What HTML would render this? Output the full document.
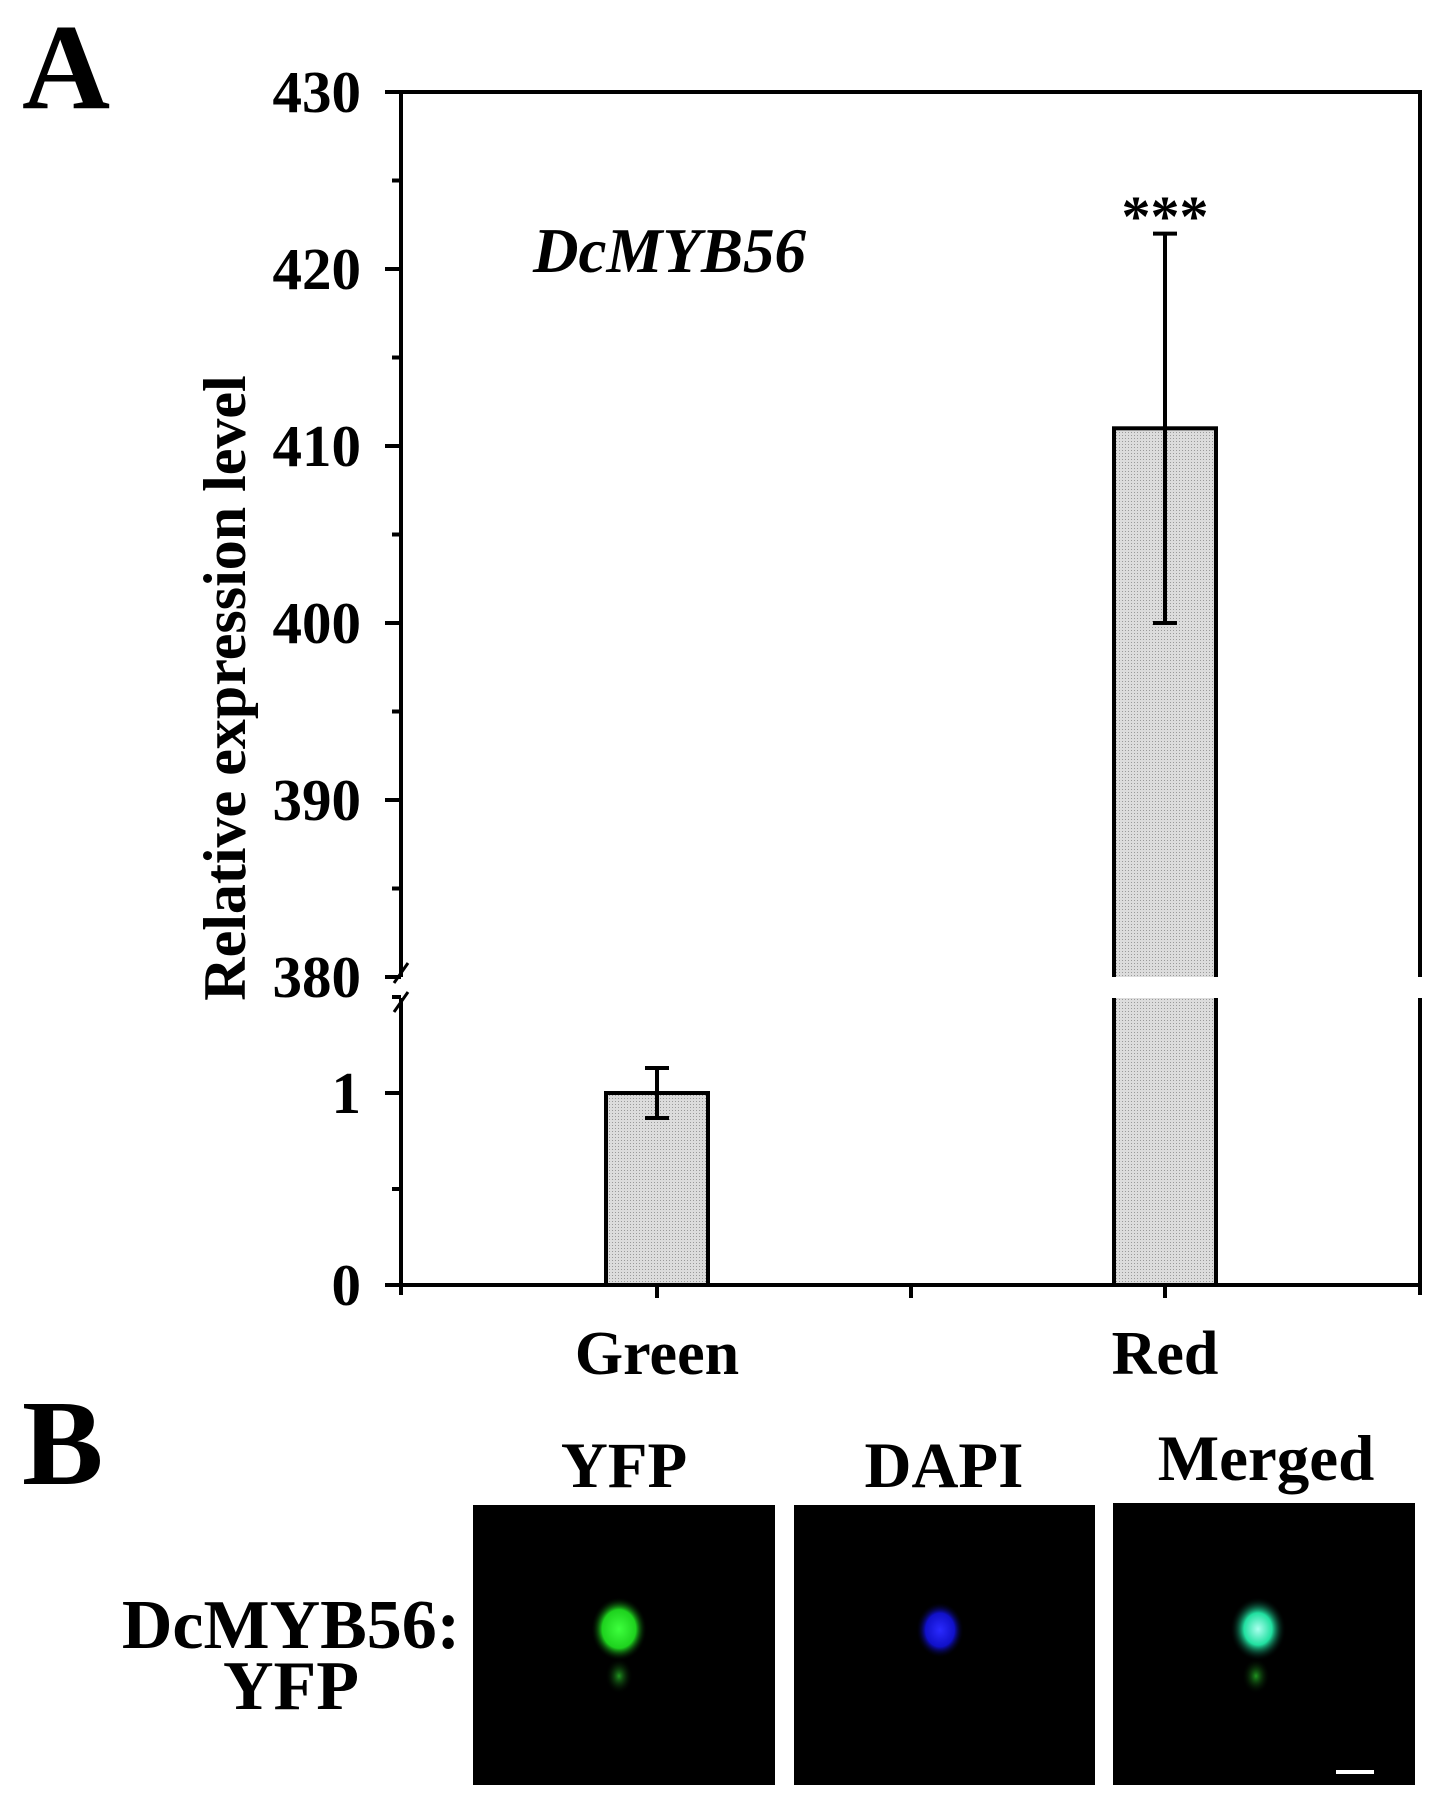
<!DOCTYPE html>
<html><head><meta charset="utf-8"><style>
html,body{margin:0;padding:0;background:#fff;}
svg{display:block;}
text{font-family:"Liberation Serif",serif;font-weight:bold;fill:#000;}
</style></head><body>
<svg id="fig" width="1452" height="1799" viewBox="0 0 1452 1799">
<defs>
<pattern id="dots" width="3" height="3" patternUnits="userSpaceOnUse">
<rect width="3" height="3" fill="#dcdcdc"/><rect width="1" height="1" fill="#9a9a9a"/>
</pattern>
<radialGradient id="gG"><stop offset="0" stop-color="#3dff3d"/><stop offset="0.6" stop-color="#1ed21e"/><stop offset="1" stop-color="#000" stop-opacity="0"/></radialGradient>
<radialGradient id="gB"><stop offset="0" stop-color="#2a2aff"/><stop offset="0.6" stop-color="#1010c8"/><stop offset="1" stop-color="#000" stop-opacity="0"/></radialGradient>
<radialGradient id="gM"><stop offset="0" stop-color="#aaffee"/><stop offset="0.5" stop-color="#20e0a0"/><stop offset="1" stop-color="#000" stop-opacity="0"/></radialGradient>
<radialGradient id="gS"><stop offset="0" stop-color="#1f961f"/><stop offset="1" stop-color="#000" stop-opacity="0"/></radialGradient>
</defs>
<text x="22" y="108" font-size="122">A</text>
<text x="22" y="1484" font-size="122">B</text>
<g id="chart"></g>
<g>
<text x="624" y="1487" font-size="65" text-anchor="middle">YFP</text>
<text x="944" y="1487" font-size="65" text-anchor="middle">DAPI</text>
<text x="1266" y="1480" font-size="65" text-anchor="middle">Merged</text>
<text x="291" y="1648" font-size="70" text-anchor="middle">DcMYB56:</text>
<text x="291" y="1709" font-size="70" text-anchor="middle">YFP</text>
<rect x="473" y="1505" width="302" height="280" fill="#000"/>
<ellipse cx="619" cy="1629" rx="28" ry="32" fill="url(#gG)"/>
<ellipse cx="619" cy="1676" rx="14" ry="18" fill="url(#gS)"/>
<rect x="794" y="1505" width="301" height="280" fill="#000"/>
<ellipse cx="940" cy="1630" rx="24" ry="28" fill="url(#gB)"/>
<rect x="1113" y="1503" width="302" height="282" fill="#000"/>
<ellipse cx="1258" cy="1629" rx="28" ry="32" fill="url(#gM)"/>
<ellipse cx="1256" cy="1676" rx="14" ry="18" fill="url(#gS)"/>
<rect x="1336" y="1770" width="38" height="4" fill="#fff"/>
</g>
</svg>
<script>
const categories = ["Green", "Red"];
const values = [1, 411];
const errLow = [0.87, 400];
const errHigh = [1.13, 422];
const upperTicks = [380, 390, 400, 410, 420, 430];
const lowerTicks = [0, 1];
const NS = "http://www.w3.org/2000/svg";
const g = document.getElementById("chart");
const L = 401, R = 1420, T = 92, B = 1285;
const gapTop = 977, gapBot = 998;
function y(v){
  if (v >= 380) return 977 - (v - 380) * (977 - 92) / 50;
  return 1285 - v * (1285 - 1093);
}
const xCenters = [657, 1165];
function x(i){ return xCenters[i]; }
function el(tag, attrs){ const e = document.createElementNS(NS, tag); for (const k in attrs) e.setAttribute(k, attrs[k]); g.appendChild(e); return e; }
const barW = 102;
values.forEach((v, i) => {
  const top = y(v);
  const r = el("rect", {x: x(i) - barW/2, y: top, width: barW, height: B - top, fill: "url(#dots)", stroke: "#000", "stroke-width": 4});
  
  
  const e = el("path", {d: `M${x(i)} ${y(errHigh[i])}V${y(errLow[i])}M${x(i)-12} ${y(errHigh[i])}H${x(i)+12}M${x(i)-12} ${y(errLow[i])}H${x(i)+12}`, stroke: "#000", "stroke-width": 4, fill: "none"});
  
  
  const lab = el("text", {x: x(i), y: 1374, "font-size": 62, "text-anchor": "middle"});
  lab.textContent = categories[i];
  
  
});
const gap = el("rect", {x: L - 2, y: gapTop, width: R - L + 6, height: gapBot - gapTop, fill: "#fff"});


const ax = el("path", {d: `M${L} ${T}H${R}V${gapTop}M${R} ${gapBot}V${B}H${L}V${gapBot}M${L} ${gapTop}V${T}`, stroke: "#000", "stroke-width": 4, fill: "none"});


const brk = el("path", {d: `M${L-7} ${gapTop+6}L${L+7} ${gapTop-14}M${L-7} ${gapBot+14}L${L+7} ${gapBot-6}`, stroke: "#000", "stroke-width": 3});


upperTicks.forEach(t => {
  el("line", {x1: L - 16, x2: L, y1: y(t), y2: y(t), stroke: "#000", "stroke-width": 4});
  if (t < 430) el("line", {x1: L - 9, x2: L, y1: y(t + 5), y2: y(t + 5), stroke: "#000", "stroke-width": 4});
  const lb = el("text", {x: 361, y: y(t) + 20, "font-size": 59, "text-anchor": "end"});
  lb.textContent = t;
  
  
});
lowerTicks.forEach(t => {
  el("line", {x1: L - 16, x2: L, y1: y(t), y2: y(t), stroke: "#000", "stroke-width": 4});
  el("line", {x1: L - 9, x2: L, y1: y(t + 0.5), y2: y(t + 0.5), stroke: "#000", "stroke-width": 4});
  const lb = el("text", {x: 361, y: y(t) + 20, "font-size": 59, "text-anchor": "end"});
  lb.textContent = t;
  
  
});
[657, 911, 1165].forEach(px => el("line", {x1: px, x2: px, y1: B, y2: B + 13, stroke: "#000", "stroke-width": 4}));
el("line", {x1: L, x2: L, y1: B, y2: B + 10, stroke: "#000", "stroke-width": 4});
el("line", {x1: R, x2: R, y1: B, y2: B + 10, stroke: "#000", "stroke-width": 4});
const st = el("text", {x: x(1), y: 236, "font-size": 58, "text-anchor": "middle", "font-weight": "normal"});
st.textContent = "***";


const gl = el("text", {x: 533, y: 272, "font-size": 63, "font-style": "italic"});
gl.textContent = "DcMYB56";


const yt = el("text", {x: 0, y: 0, "font-size": 60, "text-anchor": "middle", transform: "translate(245 688) rotate(-90)"});
yt.textContent = "Relative expression level";


</script>
</body></html>
